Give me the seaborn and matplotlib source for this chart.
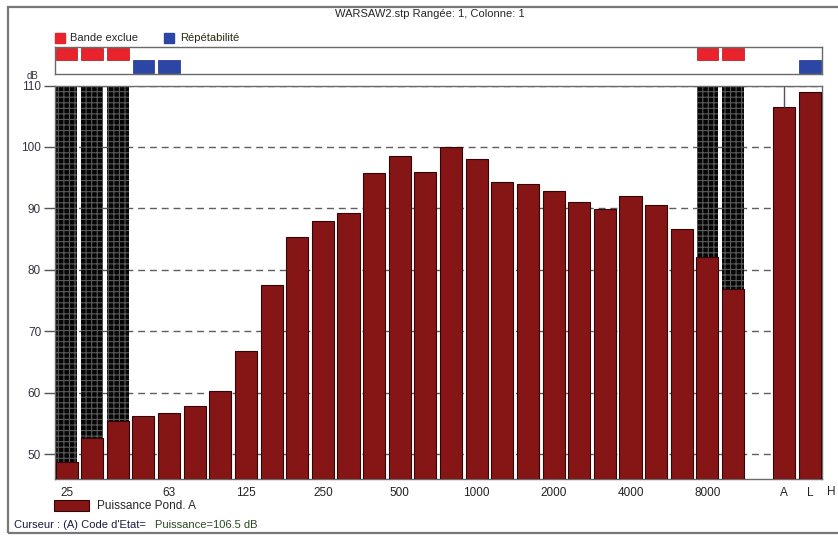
import matplotlib
matplotlib.use("Agg")

import matplotlib.pyplot as plt
import numpy as np
import pandas as pd
import seaborn as sns
from matplotlib.patches import Rectangle

# third-octave bands, then a gap slot and the global values
bands = ["25", "31.5", "40", "50", "63", "80", "100", "125", "160", "200",
         "250", "315", "400", "500", "630", "800", "1000", "1250", "1600",
         "2000", "2500", "3150", "4000", "5000", "6300", "8000", "10000"]
band_levels = [48.8, 52.6, 55.5, 56.3, 56.8, 57.8, 60.3, 66.8, 77.6, 85.3,
               87.9, 89.2, 95.8, 98.5, 96.0, 100.0, 98.1, 94.3, 94.0,
               92.8, 91.0, 89.9, 92.0, 90.5, 86.7, 82.1, 76.9]
totals = ["A", "L"]
total_levels = [106.5, 108.9]
slots = bands + [" "] + totals + ["H"]

shown_ticks = ["25", "63", "125", "250", "500", "1000", "2000", "4000",
               "8000", "A", "L"]
excluded = ["25", "31.5", "40", "8000", "10000"]   # Bande exclue
repeat = ["50", "63", "L"]                        # Répétabilité
cursor = "A"

bar_color = "#861515"
red = "#e8232b"
blue = "#2c46a6"

sns.set_style("white")
plt.rcParams["font.family"] = ["Liberation Sans", "DejaVu Sans"]
plt.rcParams["hatch.linewidth"] = 0.8

fig = plt.figure(figsize=(8.38, 5.36), dpi=100)
ax = fig.add_axes([55 / 838, 1 - 479 / 536, 767 / 838, 393.5 / 536])

df = pd.DataFrame({"slot": bands + totals, "level": band_levels + total_levels})
sns.barplot(data=df, x="slot", y="level", order=slots, color=bar_color,
            saturation=1, width=0.86, edgecolor="#300606", linewidth=0.8,
            ax=ax, zorder=3)

ax.set_xlim(-0.45, 29.47)
ax.set_ylim(46, 110)

# excluded bands: black stippled columns behind the bars
for b in excluded:
    i = slots.index(b)
    ax.axvspan(i - 0.42, i + 0.42, facecolor="#050505", edgecolor="#5a5a5a",
               hatch="+++", linewidth=0, zorder=2)

# cursor line on A
ia = slots.index(cursor)
ax.vlines(ia, total_levels[totals.index(cursor)], 110, color="#555555",
          linewidth=1, zorder=4)

ax.set_yticks(np.arange(50, 111, 10))
ax.yaxis.grid(True, linestyle=(0, (5, 3.5)), color="#5e5e5e", linewidth=1)
ax.set_axisbelow(True)
ax.tick_params(axis="y", length=8, width=1, color="#555555", pad=2,
               labelsize=8.5, labelcolor="#333340", left=True)
ax.set_xticks([slots.index(t) for t in shown_ticks])
ax.set_xticklabels(shown_ticks)
ax.tick_params(axis="x", length=0, pad=6, labelsize=8.5, labelcolor="#222222")
ax.text(slots.index("H"), -0.033, "H", transform=ax.get_xaxis_transform(),
        ha="right", va="center", fontsize=8.5, color="#222222", clip_on=False)
ax.set_xlabel("")
ax.set_ylabel("")
for s in ax.spines.values():
    s.set_color("#6a6a6a")
    s.set_linewidth(1)

# header strip with exclusion / repeatability flags
hx = fig.add_axes([55 / 838, 1 - 73.5 / 536, 767 / 838, 27 / 536])
hx.set_xlim(ax.get_xlim())
hx.set_ylim(0, 2)
hx.bar([slots.index(b) for b in excluded], 0.95, bottom=0.97, width=0.84,
       color=red, edgecolor="#b01010", linewidth=0.5)
hx.bar([slots.index(b) for b in repeat], 1.0, bottom=0.02, width=0.84,
       color=blue, edgecolor="#1c2c80", linewidth=0.5)
hx.set_xticks([])
hx.set_yticks([])
for s in hx.spines.values():
    s.set_color("#6a6a6a")
    s.set_linewidth(1)

# top legend
fig.add_artist(Rectangle((55 / 838, 1 - 43 / 536), 10 / 838, 10 / 536,
                         transform=fig.transFigure, color=red))
fig.text(70 / 838, 1 - 38 / 536, "Bande exclue", fontsize=8, va="center")
fig.add_artist(Rectangle((164 / 838, 1 - 43 / 536), 10 / 838, 10 / 536,
                         transform=fig.transFigure, color=blue))
fig.text(180 / 838, 1 - 38 / 536, "Répétabilité", fontsize=8, va="center",
         color="#2a2a10")

fig.text(430 / 838, 1 - 14 / 536, "WARSAW2.stp Rangée: 1, Colonne: 1",
         fontsize=8, ha="center", va="center")
fig.text(32 / 838, 1 - 76 / 536, "dB", fontsize=7, ha="center", va="center",
         color="#333340")

# bottom legend and cursor line
fig.add_artist(Rectangle((54 / 838, 1 - 511 / 536), 35 / 838, 11 / 536,
                         transform=fig.transFigure, facecolor=bar_color,
                         edgecolor="#300606", linewidth=0.8))
fig.text(97 / 838, 1 - 506 / 536, "Puissance Pond. A", fontsize=8.5,
         va="center")
t1 = fig.text(14 / 838, 1 - 525 / 536, "Curseur : (A) Code d'Etat=",
              fontsize=8, va="center", color="#1a1a40")
fig.canvas.draw()
x_end = t1.get_window_extent().x1
fig.text((x_end + 9) / 838, 1 - 525 / 536, "Puissance=106.5 dB", fontsize=8,
         va="center", color="#2a4a20")

# window frame
fig.add_artist(Rectangle((8 / 838, 3 / 536), 1.0, 526 / 536,
                         transform=fig.transFigure, fill=False,
                         edgecolor="#777777", linewidth=1.6))

fig.savefig("out.png", dpi=100)
